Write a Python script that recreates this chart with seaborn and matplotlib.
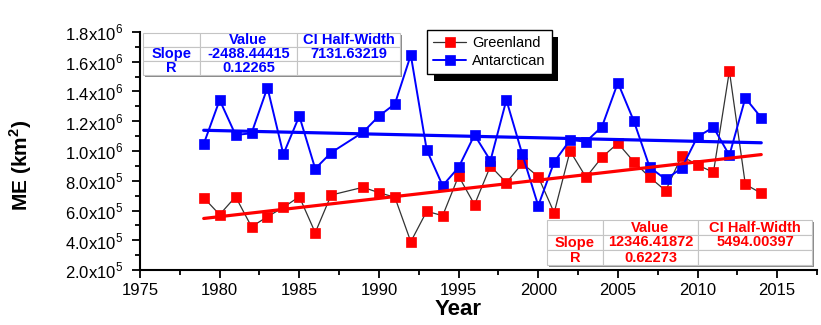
import matplotlib
matplotlib.use('Agg')
import matplotlib.pyplot as plt
import matplotlib.patheffects as pe
from matplotlib.patches import Rectangle
from matplotlib.ticker import MultipleLocator, FuncFormatter
import numpy as np
import pandas as pd
import seaborn as sns

# 1988 has no value in either series
years = [1979, 1980, 1981, 1982, 1983, 1984, 1985, 1986, 1987,
         1989, 1990, 1991, 1992, 1993, 1994, 1995, 1996,
         1997, 1998, 1999, 2000, 2001, 2002, 2003, 2004, 2005,
         2006, 2007, 2008, 2009, 2010, 2011, 2012, 2013, 2014]
greenland = [686e3, 572e3, 693e3, 491e3, 558e3, 621e3, 693e3, 451e3, 704e3,
             756e3, 720e3, 689e3, 390e3, 595e3, 565e3, 832e3, 639e3,
             899e3, 787e3, 917e3, 827e3, 585e3, 1000e3, 823e3, 958e3, 1052e3,
             928e3, 823e3, 733e3, 966e3, 906e3, 857e3, 1538e3, 776e3, 716e3]
antarctic = [1047e3, 1343e3, 1108e3, 1119e3, 1426e3, 978e3, 1235e3, 881e3, 989e3,
             1126e3, 1235e3, 1316e3, 1645e3, 1007e3, 767e3, 890e3, 1108e3,
             935e3, 1343e3, 978e3, 632e3, 926e3, 1074e3, 1063e3, 1163e3, 1459e3,
             1202e3, 890e3, 810e3, 884e3, 1096e3, 1159e3, 971e3, 1356e3, 1224e3]

ant_stats = [['', 'Value', 'CI Half-Width'],
             ['Slope', '-2488.44415', '7131.63219'],
             ['R', '0.12265', '']]
green_stats = [['', 'Value', 'CI Half-Width'],
               ['Slope', '12346.41872', '5494.00397'],
               ['R', '0.62273', '']]

df = pd.DataFrame({'Year': years, 'Greenland': greenland, 'Antarctic': antarctic})

sns.set_style('ticks')
plt.rcParams['font.family'] = ['Liberation Sans', 'DejaVu Sans']
plt.rcParams['mathtext.fontset'] = 'custom'
plt.rcParams['mathtext.rm'] = 'Liberation Sans'
plt.rcParams['mathtext.bf'] = 'Liberation Sans:bold'
for k in ['text.color', 'axes.labelcolor', 'xtick.color', 'ytick.color', 'axes.edgecolor']:
    plt.rcParams[k] = 'black'

W, H = 821, 325
AX_L, AX_R, AX_T, AX_B = 140, 817, 32, 270   # axes box in pixels
fig = plt.figure(figsize=(W / 100, H / 100), dpi=100)
ax = fig.add_axes([AX_L / W, 1 - AX_B / H, (AX_R - AX_L) / W, (AX_B - AX_T) / H])

sns.lineplot(data=df, x='Year', y='Greenland', ax=ax, color='#333333', lw=0.9,
             marker='s', markersize=6.5, markerfacecolor='red',
             markeredgecolor='red', markeredgewidth=0.5, label='Greenland')
sns.lineplot(data=df, x='Year', y='Antarctic', ax=ax, color='blue', lw=1.4,
             marker='s', markersize=6.5, markerfacecolor='blue',
             markeredgecolor='blue', markeredgewidth=0.5, label='Antarctican')
sns.regplot(data=df, x='Year', y='Greenland', ax=ax, scatter=False, ci=None,
            color='red', line_kws={'lw': 2.3})
sns.regplot(data=df, x='Year', y='Antarctic', ax=ax, scatter=False, ci=None,
            color='blue', line_kws={'lw': 2.3})

ax.set_xlim(1975, 2017.5)
ax.set_ylim(2e5, 1.8e6)
ax.xaxis.set_major_locator(MultipleLocator(5))
ax.xaxis.set_minor_locator(MultipleLocator(2.5))
ax.yaxis.set_major_locator(MultipleLocator(2e5))
ax.yaxis.set_minor_locator(MultipleLocator(1e5))


def sci(v, pos):
    if v <= 0:
        return ''
    e = int(np.floor(np.log10(v) + 1e-9))
    return f'{v / 10**e:.1f}x10$^{{{e}}}$'


ax.yaxis.set_major_formatter(FuncFormatter(sci))
ax.tick_params(which='major', length=6, width=1.3, direction='out', labelsize=12)
ax.tick_params(which='minor', length=3.5, width=1.3, direction='out')
ax.tick_params(axis='y', pad=6)
sns.despine(ax=ax)
for s in ['left', 'bottom']:
    ax.spines[s].set_linewidth(1.5)

ax.set_xlabel('Year', fontsize=16, fontweight='bold')
ax.set_ylabel('ME (km$^\\mathbf{2}$)', fontsize=15, fontweight='bold')
ax.xaxis.set_label_coords((458 - AX_L) / (AX_R - AX_L), (AX_B - 299) / (AX_B - AX_T))
ax.yaxis.set_label_coords((34 - AX_L) / (AX_R - AX_L), 0.44)

leg = ax.legend(loc='upper left', bbox_to_anchor=(427 / W, 1 - 30 / H),
                bbox_transform=fig.transFigure, fontsize=10.5, frameon=True,
                fancybox=False, framealpha=1, edgecolor='black',
                handlelength=2.3, handletextpad=0.4, borderpad=0.4,
                labelspacing=0.3, borderaxespad=0)
leg.get_frame().set_linewidth(1)
leg.get_frame().set_path_effects([
    pe.SimplePatchShadow(offset=(5, -5), shadow_rgbFace='black', alpha=1),
    pe.Normal()])
leg.set_zorder(20)


def stats_table(cells, color, left, top, widths, row_h):
    aw, ah = AX_R - AX_L, AX_B - AX_T
    x0 = (left - AX_L) / aw
    w = sum(widths) / aw
    h = 3 * row_h / ah
    y0 = (AX_B - top) / ah - h
    ax.add_patch(Rectangle((x0 + 2 / aw, y0 - 2 / ah), w, h, transform=ax.transAxes,
                           fc='#8a8a8a', ec='none', zorder=9, clip_on=False))
    tb = ax.table(cellText=cells, colWidths=[c / aw for c in widths],
                  bbox=[x0, y0, w, h], cellLoc='center')
    tb.auto_set_font_size(False)
    tb.set_fontsize(10.5)
    tb.set_zorder(10)
    for cell in tb.get_celld().values():
        cell.set_edgecolor('#c4c4c4')
        cell.set_facecolor('white')
        cell.set_linewidth(0.8)
        cell.set_text_props(color=color, fontweight='bold')
    return tb


stats_table(ant_stats, 'blue', 143, 33, [57, 97, 103], 14)
stats_table(green_stats, 'red', 547, 220, [56, 95, 114], 15)

fig.savefig('out.png', dpi=100)
